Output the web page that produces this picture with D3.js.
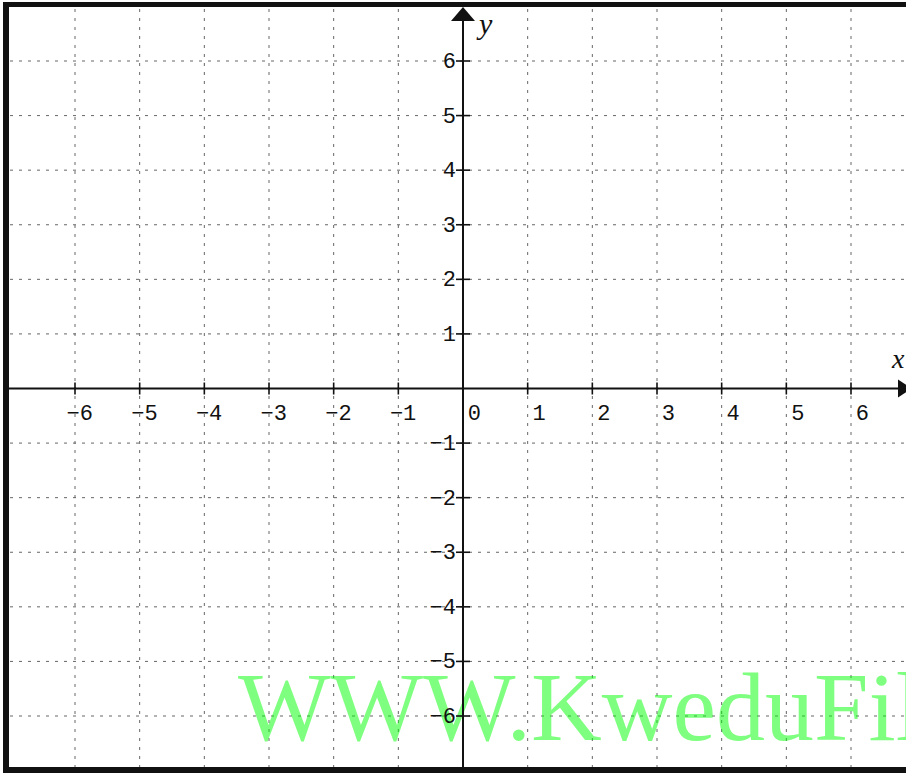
<!DOCTYPE html>
<html>
<head>
<meta charset="utf-8">
<script src="https://cdn.jsdelivr.net/npm/d3@7"></script>
<style>
  html, body { margin: 0; padding: 0; background: #fff; overflow: hidden; }
  svg { display: block; }
</style>
</head>
<body>
<svg id="chart" width="906" height="775"></svg>
<script>
// ---- data ----
const xTicks = [-6, -5, -4, -3, -2, -1, 0, 1, 2, 3, 4, 5, 6];
const yTicks = [-6, -5, -4, -3, -2, -1, 1, 2, 3, 4, 5, 6];
const xGrid = [-6, -5, -4, -3, -2, -1, 1, 2, 3, 4, 5, 6];
const yGrid = [-6, -5, -4, -3, -2, -1, 1, 2, 3, 4, 5, 6];
const axisNames = { x: "x", y: "y" };
const watermark = "WWW.KweduFiles";

const W = 906, H = 775;
const svg = d3.select("#chart");
const x = d3.scaleLinear().domain([-6, 6]).range([75, 851]);
const y = d3.scaleLinear().domain([-6, 6]).range([716, 61]);
const fmt = d => (d < 0 ? "\u2212" + Math.abs(d) : String(d));

svg.append("rect").attr("width", W).attr("height", H).attr("fill", "#fff");

// grid
const grid = svg.append("g").attr("stroke", "#666").attr("stroke-width", 1)
  .attr("stroke-dasharray", "3,6");
grid.selectAll("line.v").data(xGrid).join("line").attr("class", "v")
  .attr("x1", d => x(d)).attr("x2", d => x(d)).attr("y1", 9).attr("y2", 767);
grid.selectAll("line.h").data(yGrid).join("line").attr("class", "h")
  .attr("x1", 10).attr("x2", W).attr("y1", d => y(d)).attr("y2", d => y(d));

// watermark (multiply-like through opacity)
svg.append("text")
  .attr("x", 238).attr("y", 740)
  .attr("font-family", "'Liberation Serif', 'Times New Roman', serif")
  .attr("font-size", 98)
  .attr("fill", "#00ff00").attr("fill-opacity", 0.5)
  .text(watermark);

// axes
const x0 = x(0), y0 = y(0);
svg.append("line").attr("x1", 8).attr("x2", W).attr("y1", y0).attr("y2", y0)
  .attr("stroke", "#111").attr("stroke-width", 2);
svg.append("line").attr("x1", x0).attr("x2", x0).attr("y1", 18).attr("y2", 770)
  .attr("stroke", "#111").attr("stroke-width", 2);

// arrows
svg.append("path")
  .attr("d", `M${x0},7 L${x0 - 12},21 L${x0 + 12},21 Z`).attr("fill", "#111");
svg.append("path")
  .attr("d", `M${W + 6},${y0} L${W - 8},${y0 - 9} L${W - 8},${y0 + 9} Z`).attr("fill", "#111");

// ticks
const tk = svg.append("g").attr("stroke", "#111").attr("stroke-width", 1.6);
tk.selectAll("line.xt").data(xTicks.filter(d => d !== 0)).join("line").attr("class", "xt")
  .attr("x1", d => x(d)).attr("x2", d => x(d)).attr("y1", y0 - 6).attr("y2", y0 + 6);
tk.selectAll("line.yt").data(yTicks).join("line").attr("class", "yt")
  .attr("x1", x0 - 7).attr("x2", x0 + 7).attr("y1", d => y(d)).attr("y2", d => y(d));

// tick labels
const lab = svg.append("g")
  .attr("font-family", "'Liberation Mono', 'Courier New', monospace")
  .attr("font-size", 22).attr("fill", "#111");
lab.selectAll("text.xl").data(xTicks).join("text").attr("class", "xl")
  .attr("x", d => x(d) + 18).attr("y", 420).attr("text-anchor", "end")
  .text(fmt);
lab.selectAll("text.yl").data(yTicks).join("text").attr("class", "yl")
  .attr("x", 456).attr("y", d => y(d) + 7).attr("text-anchor", "end")
  .text(fmt);

// axis names
svg.append("text").attr("x", 479).attr("y", 34)
  .attr("font-family", "'Liberation Serif', serif").attr("font-style", "italic")
  .attr("font-size", 30).attr("fill", "#111").text(axisNames.y);
svg.append("text").attr("x", 892).attr("y", 368)
  .attr("font-family", "'Liberation Serif', serif").attr("font-style", "italic")
  .attr("font-size", 28).attr("fill", "#111").text(axisNames.x);

// frame (left, top, bottom)
svg.append("rect").attr("x", 3).attr("y", 2).attr("width", 6).attr("height", 771).attr("fill", "#111");
svg.append("rect").attr("x", 3).attr("y", 2).attr("width", W).attr("height", 5).attr("fill", "#111");
svg.append("rect").attr("x", 3).attr("y", 767).attr("width", W).attr("height", 6).attr("fill", "#111");
</script>
</body>
</html>
